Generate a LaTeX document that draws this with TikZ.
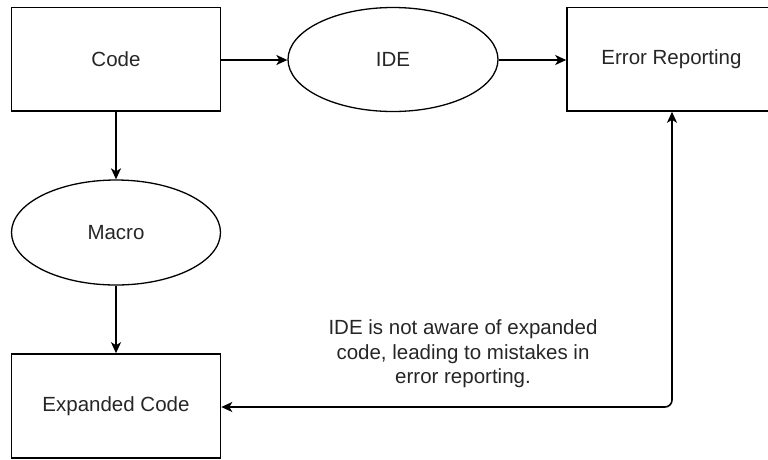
\documentclass[tikz,border=0pt]{standalone}
\usepackage{fontspec}
\setmainfont{Liberation Sans}
\usetikzlibrary{shapes.geometric,arrows.meta}
\begin{document}
\begin{tikzpicture}[x=1pt,y=-1pt,
  every node/.style={font=\fontsize{20.5}{24.5}\selectfont, text=black!85},
  boxnode/.style={draw, line width=1.6pt, rectangle, minimum width=209pt, minimum height=103.5pt, inner sep=0pt},
  ellnode/.style={draw, line width=1.3pt, ellipse, minimum width=210pt, minimum height=104pt, inner sep=0pt},
  conn/.style={draw, line width=1.6pt, -{Stealth[length=11pt,width=10pt,inset=3pt]}},
  conn2/.style={draw, line width=1.6pt, {Stealth[length=11pt,width=10pt,inset=3pt]}-{Stealth[length=11pt,width=10pt,inset=3pt]}, rounded corners=7pt}
]
\useasboundingbox (0,0) rectangle (768,459);
\clip (0,0) rectangle (768,459);
\node[boxnode] (code) at (116,59.25) {Code};
\node[ellnode] (ide) at (393,59.5) {IDE};
\node[boxnode] (err) at (671.5,59.25) {Error Reporting};
\node[ellnode, minimum width=209pt, minimum height=105pt] (macro) at (116,232.5) {Macro};
\node[boxnode, minimum height=104pt] (exp) at (116,406) {Expanded Code};
\node[align=center, inner sep=0pt] (lbl) at (463,354) {IDE is not aware of expanded\\code, leading to mistakes in\\error reporting.};
\path[conn] (code.east |- 0,60) -- (ide.west |- 0,60);
\path[conn] (ide.east |- 0,60) -- (err.west |- 0,60);
\path[conn] (code.south) -- (macro.north);
\path[conn] (macro.south) -- (exp.north);
\path[conn2] (err.south -| 672,0) |- (exp.east |- 0,407);
\end{tikzpicture}
\end{document}
